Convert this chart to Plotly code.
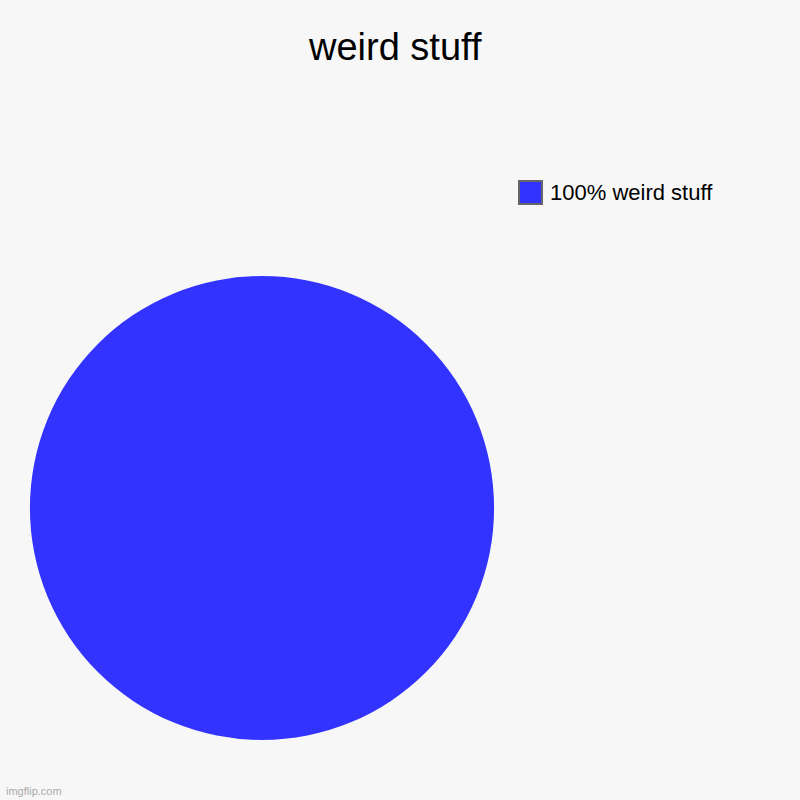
import plotly.graph_objects as go

labels = ["100% weird stuff"]
values = [100]
colors = ["#3333ff"]

title_text = "weird stuff"
bg = "#f7f7f7"

fig = go.Figure()
fig.add_trace(go.Pie(
    labels=labels, values=values,
    marker=dict(colors=colors, line=dict(width=0)),
    textinfo="none", hoverinfo="label+percent",
    sort=False, showlegend=False,
    domain=dict(x=[0.0375, 0.6175], y=[0.075, 0.655]),
))

# custom legend
for i, (lab, col) in enumerate(zip(labels, colors)):
    y0 = 180 + i * 30
    fig.add_shape(type="rect", xref="paper", yref="paper",
                  x0=519 / 800, x1=542 / 800,
                  y0=1 - (y0 + 24) / 800, y1=1 - (y0 + 1) / 800,
                  fillcolor=col, line=dict(color="#666666", width=2))
    fig.add_annotation(x=548 / 800, y=1 - (y0 + 12) / 800, xref="paper", yref="paper",
                       text=lab, showarrow=False, xanchor="left", yanchor="middle",
                       font=dict(family="Liberation Sans, Arial", size=22, color="#000000"))

fig.add_annotation(x=395 / 800, y=1 - 47 / 800, xref="paper", yref="paper",
                   text=title_text, showarrow=False, xanchor="center", yanchor="middle",
                   font=dict(family="Liberation Sans, Arial", size=38, color="#000000"))

fig.add_annotation(x=4 / 800, y=1 - 791 / 800, xref="paper", yref="paper",
                   text="imgflip.com", showarrow=False, xanchor="left", yanchor="middle",
                   font=dict(family="Liberation Sans, Arial", size=11, color="#aaaaaa"))

fig.update_layout(
    width=800, height=800,
    margin=dict(l=0, r=0, t=0, b=0),
    paper_bgcolor=bg, plot_bgcolor=bg,
)

fig.write_html(
    "out.html",
    config={"displayModeBar": False},
    post_script="document.body.style.margin='0';document.body.style.background='#f7f7f7';document.body.style.overflow='hidden';",
)
